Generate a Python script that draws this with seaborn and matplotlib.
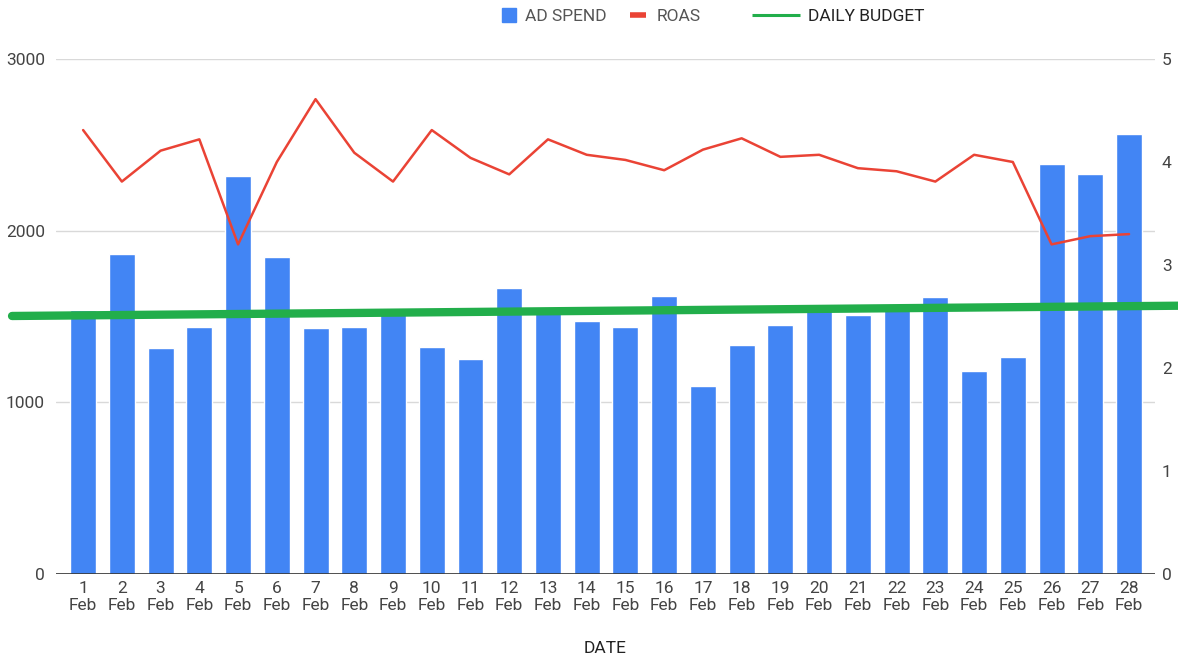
import numpy as np
import pandas as pd
import seaborn as sns
import matplotlib.pyplot as plt
from matplotlib.lines import Line2D
import matplotlib.transforms as mtransforms

# Data
days = list(range(1, 29))
day_labels = ["{0:d}\nFeb".format(d) for d in days]
ad_spend = [1538, 1864, 1316, 1439, 2318, 1846, 1433, 1439, 1538, 1322,
            1252, 1666, 1538, 1473, 1439, 1619, 1095, 1334, 1450, 1549,
            1508, 1549, 1613, 1182, 1264, 2388, 2330, 2563]
roas = [4.31, 3.81, 4.11, 4.22, 3.20, 4.00, 4.61, 4.09, 3.81, 4.31,
        4.04, 3.88, 4.22, 4.07, 4.02, 3.92, 4.12, 4.23, 4.05, 4.07,
        3.94, 3.91, 3.81, 4.07, 4.00, 3.20, 3.28, 3.30]
daily_budget = [1503, 1563]  # start / end of the budget line

BLUE = "#4285F4"
RED = "#EA4335"
GREEN = "#22AE4B"
GREY = "#444444"
FS = 12.5

sns.set_style("white")
plt.rcParams['font.family'] = ['Roboto', 'DejaVu Sans']

df = pd.DataFrame({"date": day_labels, "spend": ad_spend, "roas": roas})

W, H = 1178, 657
fig = plt.figure(figsize=(W / 100, H / 100), dpi=100)
ax = fig.add_axes([56 / W, 1 - 574 / H, 1099 / W, 515 / H])

sns.barplot(data=df, x="date", y="spend", color=BLUE, saturation=1,
            width=0.67, ax=ax, zorder=2)
ax.set_xlim(-0.7, 27.67)
ax.set_ylim(0, 3000)
ax.set_yticks([0, 1000, 2000, 3000])
ax.yaxis.grid(True, color="#d9d9d9", linewidth=1, zorder=0)
ax.set_axisbelow(True)
for s in ax.spines.values():
    s.set_visible(False)
ax.axhline(0, color="#333333", linewidth=1.2, zorder=3)
ax.tick_params(axis="both", length=0, labelsize=FS, colors=GREY, pad=5)
ax.tick_params(axis="y", pad=8)
ax.set_ylabel("")
ax.set_xlabel("DATE", fontsize=FS, color="#222222", labelpad=20)

# daily budget line, spills over the plot edges like the original
trans = mtransforms.blended_transform_factory(ax.transAxes, ax.transData)
ax.plot([-0.04, 1.025], daily_budget, transform=trans, color=GREEN,
        linewidth=6, solid_capstyle="round", clip_on=False, zorder=5)

ax2 = ax.twinx()
sns.lineplot(x=np.arange(len(days)), y=roas, color=RED, linewidth=1.8,
             ax=ax2, zorder=4)
ax2.set_ylim(0, 5)
ax2.set_yticks([0, 1, 2, 3, 4, 5])
for s in ax2.spines.values():
    s.set_visible(False)
ax2.tick_params(axis="y", length=0, labelsize=FS, colors=GREY, pad=5)
ax2.grid(False)

# legend entries placed one by one, like the sheets layout
items = [
    (Line2D([], [], marker="s", markersize=10, color=BLUE, linestyle="none"),
     "AD SPEND", 500, 1.0, 0.45, "#555555"),
    (Line2D([], [], color=RED, linewidth=4, solid_capstyle="butt"),
     "ROAS", 630, 0.95, 0.6, "#555555"),
    (Line2D([], [], color=GREEN, linewidth=2.2, solid_capstyle="butt"),
     "DAILY BUDGET", 752, 2.76, 0.45, "#222222"),
]
for h, lab, x0, hl, tp, col in items:
    leg = fig.legend([h], [lab], loc="center left",
                     bbox_to_anchor=(x0 / W, 1 - 16 / H), frameon=False,
                     fontsize=FS, handlelength=hl, handletextpad=tp,
                     borderpad=0, borderaxespad=0)
    leg.get_texts()[0].set_color(col)

fig.savefig("out.png", dpi=100)
